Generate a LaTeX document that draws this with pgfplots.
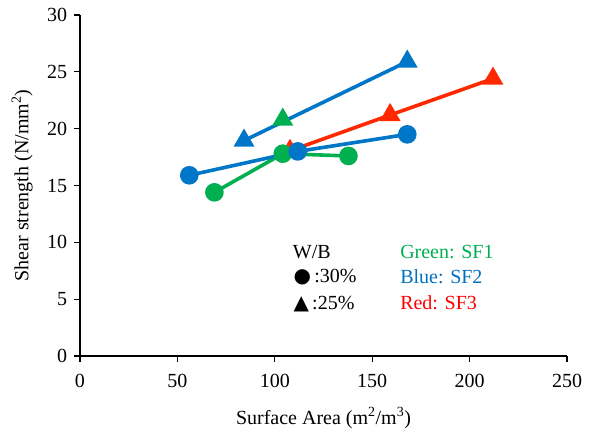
\documentclass[border=0pt]{standalone}
\usepackage{fontspec}
\setmainfont{Liberation Serif}
\newfontfamily\sym{DejaVu Sans}
\usepackage{pgfplots}
\pgfplotsset{compat=1.18}
\definecolor{cgreen}{RGB}{0,176,80}
\definecolor{cblue}{RGB}{0,118,200}
\definecolor{cred}{RGB}{255,40,0}
\definecolor{tgreen}{RGB}{0,176,80}
\definecolor{tblue}{RGB}{0,112,192}
\definecolor{tred}{RGB}{255,0,0}
\begin{document}
\fontsize{20}{24}\selectfont
\begin{tikzpicture}
\begin{axis}[name=ax, scale only axis, width=487pt, height=341pt,
  xmin=0, xmax=250, ymin=0, ymax=30,
  xtick={0,50,100,150,200,250}, ytick={0,5,10,15,20,25,30},
  xticklabels={0,50,100,150,200,250},
  yticklabels={0,5,10,15,20,25,30},
  axis lines=left, axis line style={line width=1.3pt,-},
  tick style={line width=1.3pt, black}, major tick length=6pt, tick align=outside,
  ticklabel style={font=\rmfamily\fontsize{20}{24}\selectfont},
  xticklabel style={yshift=-5pt},
  label style={font=\rmfamily\fontsize{20}{24}\selectfont},
  xlabel={Surface Area (m\textsuperscript{2}/m\textsuperscript{3})},
  ylabel={Shear strength (N/mm\textsuperscript{2})},
  xlabel style={at={(axis description cs:0.5,-0.2)}, anchor=base},
  ylabel style={at={(axis description cs:-0.119,0.5)}, anchor=center},
  clip=false,
]
% red triangles SF3 W/B 25%
\addplot[cred, line width=3.6pt, mark=triangle*, mark size=8.5pt, mark options={solid}] coordinates {(107.8,18.05) (159.2,21.2) (212,24.4)};
% green circles SF1 W/B 30%
\addplot[cgreen, line width=3.6pt, mark=*, mark size=7.5pt] coordinates {(69,14.4) (104.1,17.8) (137.8,17.6)};
% green triangle SF1 W/B 25%
\addplot[cgreen, line width=3.6pt, mark=triangle*, mark size=8.5pt] coordinates {(104.1,20.8)};
% blue circles SF2 W/B 30%
\addplot[cblue, line width=3.6pt, mark=*, mark size=7.5pt] coordinates {(56.1,15.9) (111.8,18.0) (168,19.5)};
% blue triangles SF2 W/B 25%
\addplot[cblue, line width=3.6pt, mark=triangle*, mark size=8.5pt] coordinates {(84.2,18.95) (168,25.9)};
% annotation
\node[anchor=base west, inner sep=0] at (axis cs:109.2,8.62) {W/B};
\node[anchor=base west, inner sep=0] at (axis cs:109.5,6.45) {{\sym ●}\,:30\%};
\node[anchor=base west, inner sep=0] at (axis cs:109.5,4.11) {{\sym ▲}\,:25\%};
\node[anchor=base west, inner sep=0, text=tgreen] at (axis cs:164.3,8.62) {Green: SF1};
\node[anchor=base west, inner sep=0, text=tblue] at (axis cs:164.3,6.42) {Blue: SF2};
\node[anchor=base west, inner sep=0, text=tred] at (axis cs:164.3,4.11) {Red: SF3};
\end{axis}
\pgfresetboundingbox
\path (ax.south west) ++(-80pt,-76pt) rectangle ++(611pt,432pt);
\end{tikzpicture}
\end{document}
